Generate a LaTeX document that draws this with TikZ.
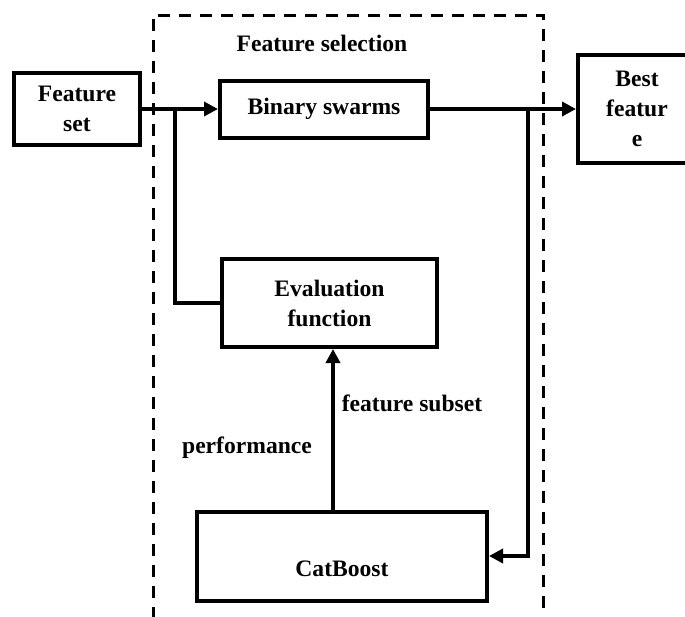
\documentclass[tikz,border=0pt]{standalone}
\usepackage{fontspec}
\setmainfont{Liberation Serif}
\usetikzlibrary{arrows.meta,calc}
\begin{document}
\begin{tikzpicture}[x=0.5pt,y=-0.5pt,
        box/.style={draw,line width=2pt,align=center,font=\bfseries\fontsize{11.8}{15}\selectfont,inner sep=0pt},
        lbl/.style={font=\bfseries\fontsize{11.8}{15}\selectfont,inner sep=0pt},
        arr/.style={line width=2pt,-{Triangle[length=7pt,width=7pt]}},
        wire/.style={line width=2pt}]
                \useasboundingbox (0,0) rectangle (685,616);
                \clip (0,0) rectangle (685,616);
                \draw[line width=1.5pt,dash pattern=on 6pt off 4.5pt] (153,640) -- (153,15) -- (543,15) -- (543,640);
                \node[lbl] (title) at (322,43) {Feature selection};
                \node[box,minimum width=63pt,minimum height=36pt] (featset) at (77,109) {Feature\\set};
                \node[box,minimum width=104pt,minimum height=28.5pt] (swarms) at (324,109) {Binary swarms};
                \node[box,minimum width=59pt,minimum height=54pt] (best) at (637,109) {Best\\featur\\e};
                \node[box,minimum width=107.5pt,minimum height=44pt] (evalfn) at (329.5,303) {Evaluation\\function};
                \node[box,minimum width=145pt,minimum height=44.5pt,text height=21pt] (catboost) at (342,556) {CatBoost};
                \node[lbl] (subset) at (412,403) {feature subset};
                \node[lbl] (perf) at (247,448) {performance};
                \coordinate (jl) at (175,109);
                \coordinate (jr) at (528,109);
                \coordinate (up) at (333,0);
                \draw[arr] (featset.east) -- (swarms.west);
                \draw[wire] (jl) |- (evalfn.west);
                \draw[arr] (swarms.east) -- (best.west);
                \draw[arr] (jr) |- (catboost.east);
                \draw[arr] (catboost.north -| up) -- (evalfn.south -| up);
            \end{tikzpicture}
\end{document}
